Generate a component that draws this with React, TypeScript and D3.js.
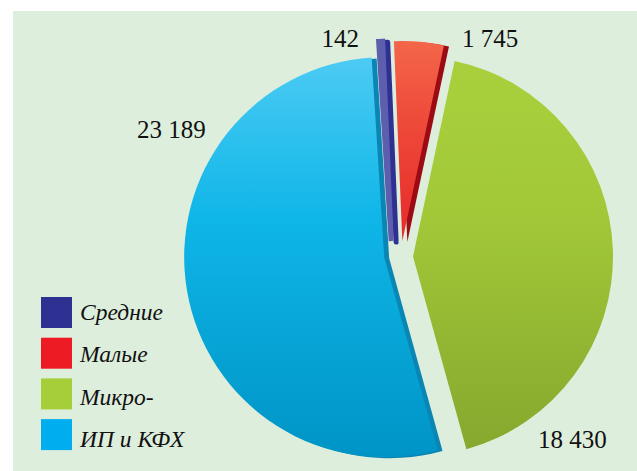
import React from "react";
import * as d3 from "d3";

const categories = ["Средние", "Малые", "Микро-", "ИП и КФХ"];
const values = [142, 1745, 18430, 23189];
const valueLabels = ["142", "1 745", "18 430", "23 189"];

const W = 637;
const H = 471;
const CX = 400;
const CY = 257;
const R = 200;
const START_DEG = -3.6;
const FONT = "Liberation Serif, Times New Roman, serif";

const explode = [16, 16, 13, 13];
const extraShift: [number, number][] = [[-8, 0], [1, 0], [0, 0], [-3, -2]];
const sideShift: [number, number][] = [[5, 1], [5, 1], [0, 0], [5, 1]];
const faceStroke = [5, 0, 0, 0];
const faceTop = ["#6a6ab6", "#f4664a", "#a9d03c", "#4ccbf4"];
const faceMid = ["#5e5eae", "#ee4a3a", "#a2c838", "#0fb6e8"];
const faceBot = ["#5252a6", "#e62a2a", "#86a82e", "#0094c6"];
const sideCol = ["#2e3192", "#9c0a14", "#86a82e", "#0a86b4"];
const legendCol = ["#2e3192", "#ed1c24", "#a6ce39", "#00aeef"];
const labelPos: [number, number, string][] = [
  [359, 47, "end"],
  [462, 47, "start"],
  [538, 448, "start"],
  [137, 138, "start"],
];

export default function App() {
  const rad = (d: number) => (d * Math.PI) / 180;
  const pie = d3
    .pie<number>()
    .sort(null)
    .startAngle(rad(START_DEG))
    .endAngle(rad(START_DEG + 360));
  const arcs = pie(values);
  const arcGen = d3.arc<d3.PieArcDatum<number>>().innerRadius(0).outerRadius(R);

  const offsets = arcs.map((a, i) => {
    const mid = (a.startAngle + a.endAngle) / 2;
    return [
      CX + Math.sin(mid) * explode[i] + extraShift[i][0],
      CY - Math.cos(mid) * explode[i] + extraShift[i][1],
    ];
  });

  return (
    <svg
      width={W}
      height={H}
      style={{ position: "absolute", left: 0, top: 0, background: "#ffffff" }}
    >
      <defs>
        {arcs.map((_, i) => (
          <linearGradient key={i} id={`g${i}`} x1="0" y1="0" x2="0" y2="1">
            <stop offset="0%" stopColor={faceTop[i]} />
            <stop offset="40%" stopColor={faceMid[i]} />
            <stop offset="100%" stopColor={faceBot[i]} />
          </linearGradient>
        ))}
      </defs>
      <rect x={13} y={11} width={W - 13} height={H - 11} fill="#deeedd" />
      {arcs.map((a, i) => (
        <g key={`s${i}`} transform={`translate(${offsets[i][0]},${offsets[i][1]})`}>
          {(sideShift[i][0] !== 0 || sideShift[i][1] !== 0) && (
            <path
              d={arcGen(a) || ""}
              transform={`translate(${sideShift[i][0]},${sideShift[i][1]})`}
              fill={sideCol[i]}
              stroke={faceStroke[i] > 0 ? sideCol[i] : "none"}
              strokeWidth={faceStroke[i]}
              strokeLinejoin="round"
            />
          )}
          <path
            d={arcGen(a) || ""}
            fill={`url(#g${i})`}
            stroke={faceStroke[i] > 0 ? faceMid[i] : "none"}
            strokeWidth={faceStroke[i]}
            strokeLinejoin="miter"
          />
        </g>
      ))}
      {valueLabels.map((t, i) => (
        <text
          key={`l${i}`}
          x={labelPos[i][0]}
          y={labelPos[i][1]}
          textAnchor={labelPos[i][2] as any}
          style={{ fontFamily: FONT, fontSize: 25 }}
          fill="#111"
        >
          {t}
        </text>
      ))}
      {categories.map((c, i) => (
        <g key={`lg${i}`}>
          <rect x={41} y={297 + i * 40.7} width={31} height={31} fill={legendCol[i]} />
          <text
            x={80}
            y={320 + i * 42.3}
            style={{ fontFamily: FONT, fontStyle: "italic", fontSize: 23.5 }}
            fill="#111"
          >
            {c}
          </text>
        </g>
      ))}
    </svg>
  );
}
